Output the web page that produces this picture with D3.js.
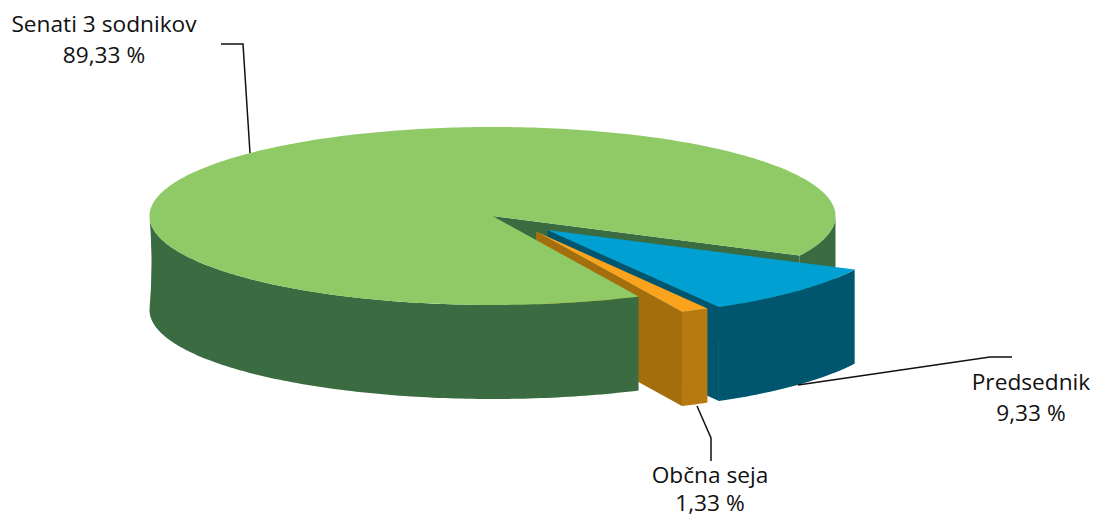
<!DOCTYPE html>
<html>
<head>
<meta charset="utf-8">
<script src="https://cdn.jsdelivr.net/npm/d3@7"></script>
<style>
  html, body { margin: 0; padding: 0; background: #fff; }
  svg { display: block; }
  text { font-family: "Open Sans", sans-serif; font-size: 22.7px; fill: #111; text-anchor: middle; }
</style>
</head>
<body>
<div id="chart"></div>
<script>
var categories = ["Senati 3 sodnikov", "Predsednik", "Občna seja"];
var shares = [89.33, 9.33, 1.33];
var value_labels = ["89,33 %", "9,33 %", "1,33 %"];

var top_colors = ["#8fca66", "#00a0d3", "#fba31c"];
var wall_colors = ["#3b6b40", "#00566f", "#b67a10"];
var cut_colors = ["#3b6b40", "#00566f", "#a36e0b"];

var width = 1094, height = 517;
var cx = 492.5, cy = 216, rx = 343, ry = 89, depth = 94;
// how far each slice is pulled out of the pie
var pull = [[0, 0], [55, 14], [43.5, 15.5]];
var label_pos = [[104, 32, 63], [1031, 390, 421], [710, 483, 511]];
var leaders = [
   [[221, 44], [243, 44], [250, 153]],
   [[1012, 357], [990, 357], [798, 385]],
   [[697, 406], [711, 438], [711, 461]]
];

var svg = d3.select("#chart").append("svg").attr("width", width).attr("height", height);

var slices = d3.pie().sort(null).value(function(d) { return d; })
   .startAngle((64.8 + 90) * Math.PI / 180)
   .endAngle((64.8 + 90 + 360) * Math.PI / 180)(shares);

// angle from d3.pie (0 = 12 o'clock) to a point on the tilted ellipse
function pt(i, a, drop) {
   var t = a - Math.PI / 2;
   return [cx + pull[i][0] + rx * Math.cos(t), cy + pull[i][1] + ry * Math.sin(t) + (drop || 0)];
}
function centre(i, drop) { return [cx + pull[i][0], cy + pull[i][1] + (drop || 0)]; }

function arc_points(i, a0, a1, drop) {
   var n = Math.max(2, Math.ceil(Math.abs(a1 - a0) * 60));
   return d3.range(n + 1).map(function(k) { return pt(i, a0 + (a1 - a0) * k / n, drop); });
}
var line = d3.line();

function top_path(i) {
   var d = slices[i];
   return line([centre(i)].concat(arc_points(i, d.startAngle, d.endAngle))) + "Z";
}
function wall_path(i, a0, a1) {
   return line(arc_points(i, a0, a1).concat(arc_points(i, a1, a0, depth))) + "Z";
}
function cut_path(i, a) {
   return line([centre(i), pt(i, a), pt(i, a, depth), centre(i, depth)]) + "Z";
}
function add(d, fill) { svg.append("path").attr("d", d).attr("fill", fill); }

var TURN = 2 * Math.PI;
var g = slices[0], b = slices[1], o = slices[2];

// back to front: green right side and its cut face
add(wall_path(0, TURN + Math.PI / 2, g.endAngle), wall_colors[0]);
add(cut_path(0, g.endAngle), cut_colors[0]);

// blue slice
add(cut_path(1, b.endAngle), cut_colors[1]);
add(wall_path(1, b.startAngle, b.endAngle), wall_colors[1]);
add(top_path(1), top_colors[1]);

// orange slice
add(cut_path(2, o.endAngle), cut_colors[2]);
add(wall_path(2, o.startAngle, o.endAngle), wall_colors[2]);
add(top_path(2), top_colors[2]);

// green front wall with the slight pinch on the far left edge, then its top
var left_a = 1.5 * Math.PI;
var front_top = arc_points(0, g.startAngle, left_a);
var front_bot = arc_points(0, left_a, g.startAngle, depth);
var wall_d = line(front_top) + "Q" + (cx - rx + 4) + "," + (cy + depth / 2) + " " + front_bot[0].join(",") +
   line(front_bot).replace(/^M/, "L") + "Z";
add(wall_d, wall_colors[0]);
add(top_path(0), top_colors[0]);

leaders.forEach(function(pts) {
   svg.append("path").attr("d", line(pts)).attr("fill", "none")
      .attr("stroke", "#111").attr("stroke-width", 1.5);
});

categories.forEach(function(name, i) {
   svg.append("text").attr("x", label_pos[i][0]).attr("y", label_pos[i][1]).text(name);
   svg.append("text").attr("x", label_pos[i][0]).attr("y", label_pos[i][2]).text(value_labels[i]);
});
</script>
</body>
</html>
